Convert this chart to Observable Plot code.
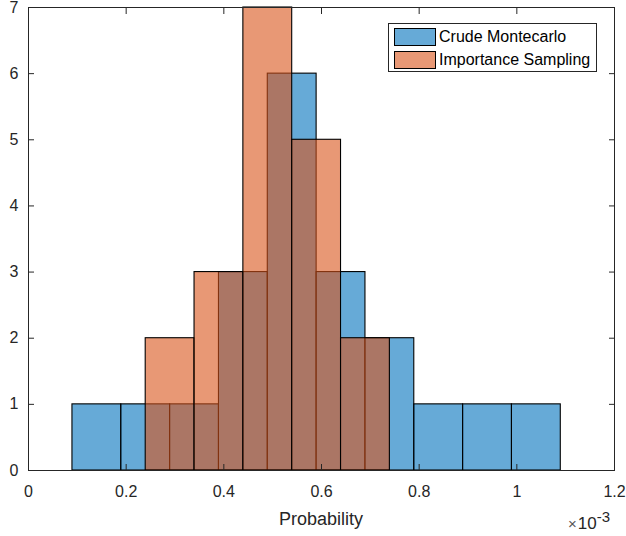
<!DOCTYPE html>
<html>
<head>
<meta charset="utf-8">
<script src="https://cdn.jsdelivr.net/npm/d3@7"></script>
<script src="https://cdn.jsdelivr.net/npm/@observablehq/plot@0.6"></script>
<style>
  html, body { margin: 0; padding: 0; background: white; }
  #wrap { position: relative; width: 626px; height: 536px; font-family: "Liberation Sans", Arial, Helvetica, sans-serif; color: #262626; }
  .legend { position: absolute; left: 388px; top: 23px; width: 207px; height: 47px; border: 1px solid #262626; background: white; }
  .legend .row { position: absolute; left: 5px; height: 18px; display: flex; align-items: center; }
  .legend .sw { width: 40px; height: 16px; border: 1px solid #000; box-sizing: content-box; }
  .legend .lab { margin-left: 3px; font-size: 16px; line-height: 18px; white-space: nowrap; color: #000; }
  .xlabel { position: absolute; left: 221px; width: 200px; text-align: center; top: 510px; font-size: 18px; line-height: 18px; }
  .exp { position: absolute; left: 568px; top: 515px; font-size: 17px; line-height: 17px; white-space: nowrap; }
  .exp .times { font-size: 15px; color: #555; margin-right: 1px; }
  .exp sup { font-size: 15px; position: relative; top: -7px; vertical-align: top; }
</style>
</head>
<body>
<div id="wrap"></div>
<script>
// Data (probability values; bins of fixed width)
const binWidth = 0.0001;
const crudeStarts = [0.00009, 0.00019, 0.00029, 0.00039, 0.00049, 0.00059, 0.00069, 0.00079, 0.00089, 0.00099];
const crudeCounts = [1, 1, 1, 3, 6, 3, 2, 1, 1, 1];
const impStarts = [0.00024, 0.00034, 0.00044, 0.00054, 0.00064];
const impCounts = [2, 3, 7, 5, 2];
const xTicks = [0, 0.0002, 0.0004, 0.0006, 0.0008, 0.001, 0.0012];
const yTicks = [0, 1, 2, 3, 4, 5, 6, 7];
const seriesNames = ["Crude Montecarlo", "Importance Sampling"];
const seriesColors = ["#0072BD", "#D95319"];

const crude = crudeStarts.map((s, i) => ({start: s, end: s + binWidth, count: crudeCounts[i]}));
const imp = impStarts.map((s, i) => ({start: s, end: s + binWidth, count: impCounts[i]}));

const fmt = d => String(+(d * 1000).toFixed(1));
const yfmt = d => String(d);
const axisColor = "#262626";

const chart = Plot.plot({
  width: 626,
  height: 536,
  marginLeft: 28,
  marginRight: 12,
  marginTop: 7,
  marginBottom: 66,
  style: {fontFamily: "'Liberation Sans', Arial, Helvetica, sans-serif", fontSize: "16px", color: axisColor, background: "white", overflow: "visible"},
  x: {domain: [0, 0.0012]},
  y: {domain: [0, 7]},
  marks: [
    Plot.rect(crude, {x1: "start", x2: "end", y1: 0, y2: "count", fill: seriesColors[0], fillOpacity: 0.6, stroke: "black", strokeWidth: 1.1}),
    Plot.rect(imp, {x1: "start", x2: "end", y1: 0, y2: "count", fill: seriesColors[1], fillOpacity: 0.6, stroke: "black", strokeWidth: 1.1}),
    Plot.frame({stroke: axisColor, strokeWidth: 1}),
    Plot.axisX({anchor: "bottom", ticks: xTicks, tickSize: 0, tickPadding: 15, tickFormat: fmt, label: null, fill: axisColor}),
    Plot.axisX({anchor: "bottom", ticks: xTicks, tickSize: 6, dy: -6, fill: "none", label: null, stroke: axisColor}),
    Plot.axisX({anchor: "top", ticks: xTicks, tickSize: 6, dy: 6, fill: "none", label: null, stroke: axisColor}),
    Plot.axisY({anchor: "left", ticks: yTicks, tickSize: 0, tickPadding: 10, tickFormat: yfmt, label: null, fill: axisColor}),
    Plot.axisY({anchor: "left", ticks: yTicks, tickSize: 6, dx: 6, fill: "none", label: null, stroke: axisColor}),
    Plot.axisY({anchor: "right", ticks: yTicks, tickSize: 6, dx: -6, fill: "none", label: null, stroke: axisColor})
  ]
});

const wrap = document.getElementById("wrap");
wrap.appendChild(chart);

// x label
const xl = document.createElement("div");
xl.className = "xlabel";
xl.textContent = "Probability";
wrap.appendChild(xl);

// exponent
const ex = document.createElement("div");
ex.className = "exp";
ex.innerHTML = "<span class='times'>×</span>10<sup>-3</sup>";
wrap.appendChild(ex);

// legend
const lg = document.createElement("div");
lg.className = "legend";
seriesNames.forEach((name, i) => {
  const row = document.createElement("div");
  row.className = "row";
  row.style.top = (i === 0 ? 4 : 27) + "px";
  const sw = document.createElement("div");
  sw.className = "sw";
  sw.style.backgroundColor = d3.interpolateRgb("white", seriesColors[i])(0.6);
  const lab = document.createElement("span");
  lab.className = "lab";
  lab.textContent = name;
  row.appendChild(sw);
  row.appendChild(lab);
  lg.appendChild(row);
});
wrap.appendChild(lg);
</script>
</body>
</html>
